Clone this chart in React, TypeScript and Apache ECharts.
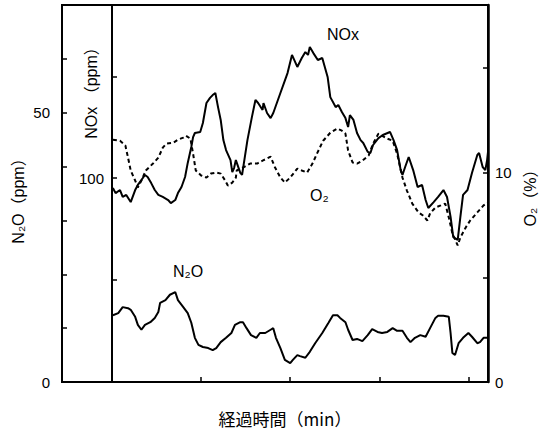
import React, { useEffect, useRef } from 'react';
import * as echarts from 'echarts';

// elapsed time (min) and NOx (ppm)
const noxTime = [0.1, 0.4, 0.9, 1.2, 1.6, 2.1, 2.6, 2.9, 3.3, 3.7, 4.0, 4.4, 4.8, 5.2, 5.7, 6.3, 6.6, 7.1, 7.4, 7.8, 8.2, 8.5, 8.9, 9.1, 9.3, 9.9, 10.2, 10.6, 11.0, 11.3, 11.6, 11.9, 12.2, 12.5, 12.8, 13.3, 13.5, 13.7, 13.9, 14.4, 14.6, 15.2, 15.7, 16.1, 16.4, 16.9, 17.0, 17.4, 17.8, 18.1, 18.9, 19.7, 20.2, 20.8, 21.3, 21.7, 22.0, 22.2, 22.6, 23.1, 23.6, 24.2, 24.5, 25.1, 25.4, 25.8, 26.2, 26.5, 26.7, 27.1, 27.5, 27.9, 28.2, 28.7, 29.0, 29.3, 29.9, 30.4, 31.2, 31.6, 32.0, 32.4, 32.6, 32.9, 33.3, 33.8, 34.3, 34.8, 35.2, 35.5, 36.1, 36.6, 37.2, 37.6, 38.0, 38.3, 38.8, 39.1, 39.4, 39.9, 40.4, 41.0, 41.2, 41.6, 41.9, 42.1, 42.2];
const noxValues = [95.2, 92.7, 94.2, 90.8, 91.8, 88.3, 94.2, 96.7, 99.1, 101.6, 100.6, 97.6, 94.2, 91.8, 90.8, 89.3, 87.8, 89.3, 92.7, 95.7, 100.6, 107.5, 115.3, 120.2, 122.2, 122.7, 127.1, 136.9, 139.4, 140.8, 141.8, 134.9, 128.6, 118.7, 113.8, 108.9, 103.0, 105.0, 108.9, 102.6, 101.6, 118.7, 130.0, 138.4, 136.9, 133.5, 136.9, 132.0, 129.5, 132.0, 141.8, 151.6, 160.5, 154.6, 159.0, 161.9, 160.5, 164.4, 161.4, 158.0, 159.0, 149.7, 139.8, 134.9, 135.9, 132.5, 129.5, 125.1, 131.0, 128.6, 122.2, 118.7, 117.3, 112.9, 112.4, 116.3, 119.7, 121.2, 122.7, 118.7, 113.8, 104.0, 101.6, 105.5, 110.4, 104.0, 95.7, 96.7, 89.3, 85.4, 88.3, 90.8, 94.2, 90.8, 81.0, 71.1, 69.7, 81.0, 91.8, 94.2, 102.6, 111.4, 112.4, 105.5, 104.0, 108.9, 112.9];

// elapsed time (min) and O2 (%)
const o2Time = [0.1, 0.9, 1.5, 1.8, 2.1, 2.6, 2.9, 3.3, 3.8, 4.6, 5.2, 5.7, 6.1, 6.9, 7.4, 8.0, 8.3, 8.8, 9.1, 9.4, 10.0, 10.6, 11.1, 11.7, 12.2, 12.7, 13.0, 13.5, 13.9, 14.0, 14.7, 15.5, 16.3, 16.9, 17.4, 17.8, 18.3, 18.9, 19.4, 20.0, 20.8, 21.3, 21.9, 22.5, 23.0, 23.7, 24.5, 25.3, 25.8, 26.2, 26.5, 27.0, 27.5, 28.1, 28.8, 29.3, 29.9, 30.9, 31.5, 32.0, 32.6, 33.1, 33.7, 34.4, 34.9, 35.4, 35.7, 36.3, 36.9, 37.4, 37.8, 38.2, 38.8, 39.1, 39.7, 40.2, 41.0, 41.7, 42.2];
const o2Values = [11.57, 11.52, 11.29, 10.71, 10.1, 9.62, 9.29, 9.62, 10.1, 10.43, 10.71, 11.19, 11.38, 11.43, 11.57, 11.67, 11.76, 11.62, 10.9, 10.1, 9.86, 9.76, 9.95, 10.0, 9.95, 9.62, 9.38, 9.52, 9.76, 10.1, 10.24, 10.43, 10.43, 10.57, 10.67, 10.76, 10.24, 9.76, 9.52, 9.76, 10.19, 10.1, 10.0, 10.43, 10.9, 11.52, 11.9, 12.1, 12.0, 11.86, 11.05, 10.48, 10.43, 10.57, 10.81, 11.38, 11.86, 11.62, 11.52, 10.9, 9.76, 9.14, 8.52, 8.1, 7.95, 7.71, 8.05, 8.33, 8.43, 8.52, 7.86, 7.1, 6.52, 6.9, 7.38, 7.71, 8.1, 8.43, 8.57];

// elapsed time (min) and N2O (ppm)
const n2oTime = [0.1, 0.7, 1.2, 1.8, 2.1, 2.6, 2.9, 3.3, 3.7, 4.3, 4.8, 5.2, 5.4, 6.0, 6.5, 7.1, 7.4, 8.0, 8.5, 8.9, 9.3, 9.7, 10.2, 10.8, 11.3, 11.7, 12.2, 12.8, 13.4, 13.8, 14.4, 14.7, 15.1, 15.6, 16.2, 16.6, 17.2, 17.8, 18.1, 18.4, 18.9, 19.4, 20.0, 20.3, 20.8, 21.1, 21.7, 22.2, 22.8, 23.6, 24.3, 24.8, 25.3, 25.6, 26.2, 26.5, 27.0, 27.5, 28.1, 28.7, 29.2, 29.8, 30.3, 30.9, 31.5, 32.0, 32.6, 33.1, 33.5, 34.0, 34.6, 35.2, 35.7, 36.3, 36.6, 37.2, 37.8, 38.0, 38.2, 38.5, 38.9, 39.4, 40.0, 40.4, 41.0, 41.3, 41.7, 42.1];
const n2oValues = [12.4, 12.8, 13.9, 13.7, 13.4, 12.1, 10.6, 9.7, 10.6, 11.1, 11.9, 13.0, 14.7, 15.2, 16.2, 16.7, 15.2, 13.9, 12.8, 11.0, 8.2, 6.9, 6.5, 6.3, 5.9, 6.3, 7.4, 8.2, 9.1, 10.6, 11.1, 11.1, 10.0, 8.7, 8.2, 9.1, 9.1, 9.7, 10.0, 8.2, 6.3, 4.1, 3.5, 4.1, 5.0, 4.8, 4.5, 5.6, 7.2, 9.1, 11.0, 12.4, 12.4, 11.9, 11.1, 9.7, 7.8, 8.0, 7.6, 8.7, 9.8, 9.3, 9.1, 9.3, 10.0, 9.5, 9.5, 8.2, 7.4, 8.2, 8.7, 8.4, 10.0, 11.9, 12.3, 12.3, 12.1, 9.1, 5.4, 5.0, 7.2, 8.2, 9.1, 8.4, 7.2, 7.4, 8.2, 8.2];

// axis tick labels that are printed
const n2oTickLabels = [0, 50];
const noxTickLabels = [100];
const o2TickLabels = [0, 10];

const zip = (t: number[], v: number[]) => t.map((x, i) => [x, v[i]]);

const LATIN = "'Liberation Sans', 'Noto Sans', 'Noto Sans CJK JP', sans-serif";
const CJK = "'Noto Sans CJK JP', 'Noto Sans', sans-serif";

export default function App() {
  const ref = useRef<HTMLDivElement>(null);
  useEffect(() => {
    document.body.style.margin = '0';
    const chart = echarts.init(ref.current!, null, { renderer: 'svg' });
    const tickStyle = { show: true, inside: true, length: 5, lineStyle: { color: '#000', width: 1.5 } };
    chart.setOption({
      animation: false,
      backgroundColor: '#fff',
      grid: [
        { left: 62, top: 5, width: 426, height: 377, show: true, borderColor: '#000', borderWidth: 2, backgroundColor: 'transparent' },
        { left: 112, top: 5, width: 376, height: 377 },
      ],
      xAxis: [
        { type: 'value', gridIndex: 0, min: 0, max: 1, show: false },
        {
          type: 'value', gridIndex: 1, min: 0, max: 42.2, interval: 10,
          axisLine: { show: false }, axisTick: tickStyle, axisLabel: { show: false }, splitLine: { show: false },
        },
      ],
      yAxis: [
        {
          type: 'value', gridIndex: 0, position: 'left', min: 0, max: 70, interval: 10,
          axisLine: { show: true, lineStyle: { color: '#000', width: 2 } }, axisTick: tickStyle,
          axisLabel: {
            margin: 12, color: '#000', fontSize: 15, fontFamily: LATIN,
            formatter: (v: number) => (n2oTickLabels.includes(v) ? String(v) : ''),
          },
          splitLine: { show: false },
        },
        {
          type: 'value', gridIndex: 1, position: 'left', min: 0, max: 185, interval: 50,
          axisLine: { show: true, lineStyle: { color: '#000', width: 2 } }, axisTick: tickStyle,
          axisLabel: {
            margin: 8, color: '#000', fontSize: 15, fontFamily: LATIN,
            formatter: (v: number) => (noxTickLabels.includes(v) ? String(v) : ''),
          },
          splitLine: { show: false },
        },
        {
          type: 'value', gridIndex: 1, position: 'right', min: 0, max: 18, interval: 5,
          axisLine: { show: true, lineStyle: { color: '#000', width: 2.5 } }, axisTick: tickStyle,
          axisLabel: {
            margin: 7, color: '#000', fontSize: 15, fontFamily: LATIN,
            formatter: (v: number) => (o2TickLabels.includes(v) ? String(v) : ''),
          },
          splitLine: { show: false },
        },
        // hidden copy of the N2O scale inside the data grid
        { type: 'value', gridIndex: 1, position: 'left', min: 0, max: 70, show: false, splitLine: { show: false } },
      ],
      series: [
        {
          name: 'NOx', type: 'line', xAxisIndex: 1, yAxisIndex: 1, data: zip(noxTime, noxValues),
          showSymbol: false, lineStyle: { color: '#000', width: 2 },
        },
        {
          name: 'O2', type: 'line', xAxisIndex: 1, yAxisIndex: 2, data: zip(o2Time, o2Values),
          showSymbol: false, lineStyle: { color: '#000', width: 2, type: [4, 3] },
        },
        {
          name: 'N2O', type: 'line', xAxisIndex: 1, yAxisIndex: 3, data: zip(n2oTime, n2oValues),
          showSymbol: false, lineStyle: { color: '#000', width: 2 },
        },
      ],
      graphic: [
        { type: 'text', x: 327, y: 34, style: { text: 'NOx', font: `16px ${LATIN}`, fill: '#000', align: 'left', verticalAlign: 'middle' } },
        { type: 'text', x: 310, y: 195, style: { text: 'O₂', font: `16px ${LATIN}`, fill: '#000', align: 'left', verticalAlign: 'middle' } },
        { type: 'text', x: 173, y: 271, style: { text: 'N₂O', font: `16px ${LATIN}`, fill: '#000', align: 'left', verticalAlign: 'middle' } },
        { type: 'text', x: 18, y: 197, rotation: Math.PI / 2, style: { text: 'N₂O（ppm）', font: `16px ${LATIN}`, fill: '#000', align: 'center', verticalAlign: 'middle' } },
        { type: 'text', x: 91, y: 89, rotation: Math.PI / 2, style: { text: 'NOx （ppm）', font: `16px ${LATIN}`, fill: '#000', align: 'center', verticalAlign: 'middle' } },
        { type: 'text', x: 530, y: 194, rotation: Math.PI / 2, style: { text: 'O₂（%）', font: `16px ${LATIN}`, fill: '#000', align: 'center', verticalAlign: 'middle' } },
        { type: 'text', x: 285, y: 418, style: { text: '経過時間（min）', font: `17px ${CJK}`, fill: '#000', align: 'center', verticalAlign: 'middle' } },
      ],
    });
    return () => chart.dispose();
  }, []);
  return <div ref={ref} style={{ width: 551, height: 432, background: '#fff' }} />;
}
